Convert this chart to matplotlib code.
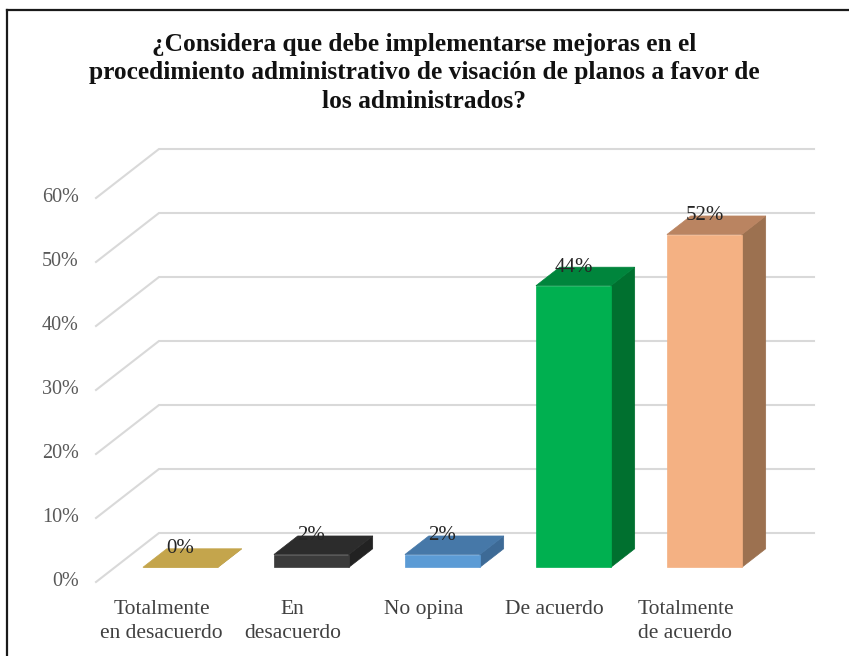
import matplotlib.pyplot as plt
from matplotlib.lines import Line2D

# datos
categorias = ['Totalmente\nen desacuerdo', 'En\ndesacuerdo', 'No opina', 'De acuerdo', 'Totalmente\nde acuerdo']
valores = [0, 2, 2, 44, 52]
etiquetas = ['0%', '2%', '2%', '44%', '52%']
ticks = [0, 10, 20, 30, 40, 50, 60]
titulo = ('¿Considera que debe implementarse mejoras en el\n'
          'procedimiento administrativo de visación de planos a favor de\n'
          'los administrados?')

# colores de cada barra: frente, tapa, lado
colores = [
    ('#C9A94F', '#C4A54C', '#A88C3E'),
    ('#3B3B3B', '#2C2C2C', '#222222'),
    ('#5B9BD5', '#4678A8', '#3D6A96'),
    ('#00B050', '#00853C', '#00702F'),
    ('#F4B183', '#BA8461', '#9C7150'),
]

plt.rcParams['font.family'] = ['Liberation Serif', 'DejaVu Serif']

# perspectiva (profundidad d de 0 a 1)
DX = 63 / 131
DY = 49 / 6.4
w = 0.286
d0, d1 = 0.3, 0.678


def proj(x, y, d):
    return x + DX * d, y + DY * d


fig = plt.figure(figsize=(8.49, 6.56), dpi=100)
ax = fig.add_axes([0, 0, 1, 1])
ax.set_xlim(-161.5 / 131, (849 - 161.5) / 131)
ax.set_ylim((582 - 656) / 6.4, 582 / 6.4)
ax.axis('off')

# cuadricula (pared lateral y fondo)
n = len(categorias)
for t in ticks:
    pts = [proj(-0.5, t, 0), proj(-0.5, t, 1), proj(n - 0.5, t, 1)]
    ax.plot([p[0] for p in pts], [p[1] for p in pts], color='#D9D9D9', lw=1.5,
            solid_joinstyle='miter', zorder=1)
    ax.text(-0.63, t, f'{t}%', ha='right', va='center', fontsize=14.5, color='#595959')

# barras 3D
for i, (v, (cf, ct, cs)) in enumerate(zip(valores, colores)):
    front = [proj(i - w, 0, d0), proj(i + w, 0, d0), proj(i + w, v, d0), proj(i - w, v, d0)]
    top = [proj(i - w, v, d0), proj(i + w, v, d0), proj(i + w, v, d1), proj(i - w, v, d1)]
    side = [proj(i + w, 0, d0), proj(i + w, 0, d1), proj(i + w, v, d1), proj(i + w, v, d0)]
    for poly, c in [(side, cs), (front, cf), (top, ct)]:
        ax.fill([p[0] for p in poly], [p[1] for p in poly], color=c, lw=0.5, ec=c, zorder=3)
    lx = proj(i, v, d0)[0]
    ly = proj(i, v, d1)[1]
    ax.text(lx, ly, etiquetas[i], ha='center', va='center', fontsize=15,
            color='#262626', zorder=5)

# categorias
for i, c in enumerate(categorias):
    ax.text(i, (582 - 600) / 6.4, c, ha='center', va='top', fontsize=15.5,
            color='#404040', linespacing=1.36)

fig.text(0.5, 1 - 73 / 656, titulo, ha='center', va='center', fontsize=18.3,
         fontweight='bold', color='#111111', linespacing=1.28)

# marco
fig.add_artist(Line2D([7 / 849, 1], [1 - 10 / 656, 1 - 10 / 656], color='#1A1A1A', lw=1.6))
fig.add_artist(Line2D([7 / 849, 7 / 849], [0, 1 - 10 / 656], color='#1A1A1A', lw=1.6))

fig.savefig('out.png', dpi=100)
